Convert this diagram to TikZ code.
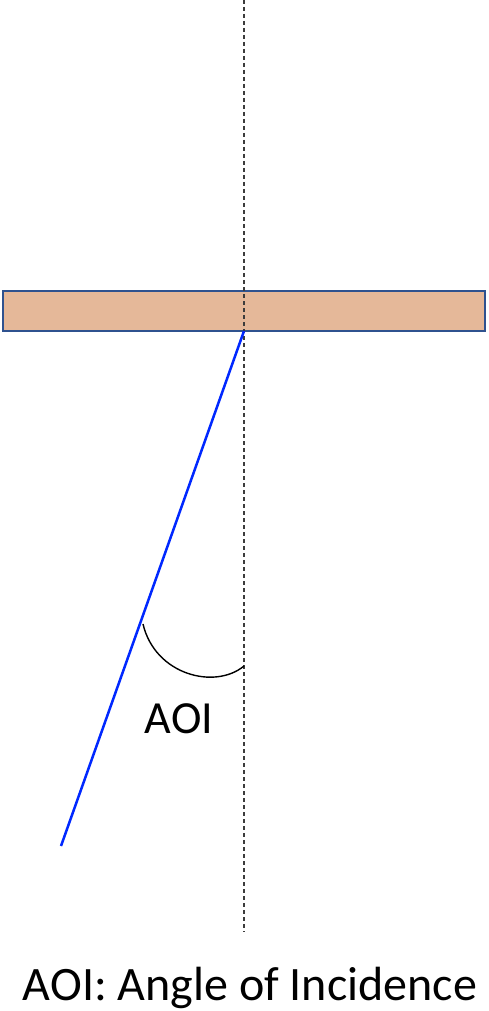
\documentclass[tikz,border=0pt]{standalone}
\usepackage{fontspec}
\setmainfont{Carlito}
\definecolor{plate}{RGB}{229,184,153}
\definecolor{plateedge}{RGB}{47,82,143}
\definecolor{ray}{RGB}{0,40,255}
\definecolor{normalc}{RGB}{60,60,60}
\begin{document}
\begin{tikzpicture}[x=1pt,y=-1pt,
  platestyle/.style={draw=plateedge,fill=plate,line width=2.2pt,minimum width=482pt,minimum height=40pt,inner sep=0pt},
  normalline/.style={draw=normalc,line width=1.3pt,dash pattern=on 4pt off 3pt},
  raystyle/.style={draw=ray,line width=2.5pt},
  anglearc/.style={draw=black,line width=1.4pt},
  lbl/.style={inner sep=0pt,anchor=base}]
\useasboundingbox (0,0) rectangle (489,1011);
\fill[white] (0,0) rectangle (489,1011);
\coordinate (ntop) at (244,0);
\coordinate (nbot) at (244,932);
\node[platestyle] (plate) at (244,311) {};
\draw[normalline] (ntop) -- (nbot);
\coordinate (hit) at (244,331);
\coordinate (rayend) at (61,846);
\draw[raystyle] (hit) -- (rayend);
\coordinate (a1) at (143,624);
\coordinate (a2) at (244,666);
\draw[anglearc] (a1) .. controls (155,675) and (215,690) .. (a2);
\node[lbl,font=\fontsize{46}{54}\selectfont] (aoi) at (179,733) {AOI};
\node[lbl,font=\fontsize{48}{56}\selectfont] (caption) at (250,1000) {AOI: Angle of Incidence};
\end{tikzpicture}
\end{document}
